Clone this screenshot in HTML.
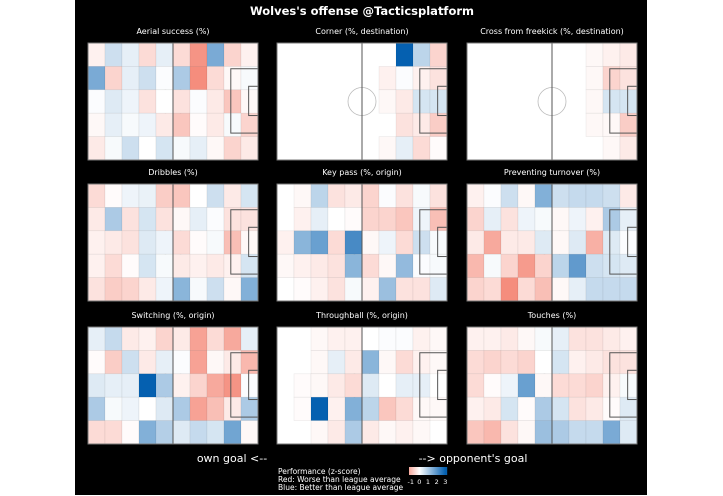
<!DOCTYPE html>
<html><head><meta charset="utf-8">
<style>
html,body{margin:0;padding:0;background:#fff;}
#wrap{position:relative;width:723px;height:496px;overflow:hidden;background:#fff;font-family:"Liberation Sans","DejaVu Sans",sans-serif;}
#bg{position:absolute;left:75px;top:0;width:572px;height:495px;background:#000;}
svg{position:absolute;left:0;top:0;}
</style></head>
<body>
<div id="wrap">
<div id="bg"></div>
<svg id="chart" width="723" height="496">
<text x="362" y="15" fill="#fff" font-size="11.5" font-weight="bold" text-anchor="middle" font-family="DejaVu Sans, sans-serif">Wolves's offense @Tacticsplatform</text>
<text x="232" y="462" fill="#fff" font-size="11" text-anchor="middle" font-family="DejaVu Sans, sans-serif">own goal &lt;--</text>
<text x="473" y="462" fill="#fff" font-size="11" text-anchor="middle" font-family="DejaVu Sans, sans-serif">--&gt; opponent's goal</text>
<g font-family="DejaVu Sans, sans-serif" font-size="7.5" fill="#fff">
<text x="278" y="474">Performance (z-score)</text>
<text x="278" y="482">Red: Worse than league average</text>
<text x="278" y="490">Blue: Better than league average</text>
</g>
</svg>
</div>
<script>
const titles = ["Aerial success (%)","Corner (%, destination)","Cross from freekick (%, destination)","Dribbles (%)","Key pass (%, origin)","Preventing turnover (%)","Switching (%, origin)","Throughball (%, origin)","Touches (%)"];
const N = null;
const aerial = [[-0.2,0.6,0.3,-0.5,0.3,-0.5,-1.5,1.6,-0.6,-0.2],[1.6,-0.6,0.3,0.6,0.05,1.0,-1.6,-0.5,-0.1,0.1],[0.05,0.4,0.2,-0.4,0,-0.4,0.05,-0.3,-0.8,-0.1],[-0.1,0.3,0.1,0.2,-0.3,-0.8,-0.05,-0.3,0.1,-0.6],[-0.3,0.1,0.6,0,0.5,0.1,0.3,-0.1,-0.6,-0.3]];
const corner = [[N,N,N,N,N,N,N,3.0,0.8,-0.6],[N,N,N,N,N,N,-0.2,0.05,-0.2,-0.4],[N,N,N,N,N,N,-0.1,-0.3,0.5,0.5],[N,N,N,N,N,N,N,-0.4,-0.3,-0.7],[N,N,N,N,N,N,-0.1,0.3,-0.5,-0.05]];
const crossFk = [[N,N,N,N,N,N,N,-0.1,-0.2,-0.3],[N,N,N,N,N,N,N,-0.1,-0.6,-0.4],[N,N,N,N,N,N,N,-0.1,0.5,0.5],[N,N,N,N,N,N,N,-0.1,-0.1,-0.7],[N,N,N,N,N,N,N,N,-0.1,-0.3]];
const dribbles = [[-0.5,-0.05,0.2,0.25,-0.7,-0.8,0,0.6,-0.3,0.5],[-0.3,1.0,-0.4,0.5,-0.4,-0.1,0.3,0.05,-0.4,-0.4],[-0.2,-0.3,-0.4,0.4,0.2,-0.5,-0.05,0.1,-0.9,-0.1],[-0.2,-0.5,-0.05,0.5,0.1,-0.3,-0.2,-0.3,-0.2,0.5],[-0.4,-0.7,-0.6,-0.3,0.2,1.4,0.1,0.6,-0.1,1.5]];
const keyPass = [[N,-0.1,0.8,-0.4,-0.3,-0.6,0.05,-0.4,0.1,-0.4],[N,-0.2,0.3,0,-0.05,-0.6,-0.6,-0.8,0.2,-0.9],[-0.2,1.4,1.8,-0.5,2.2,-0.1,0.2,-0.5,0.6,0.1],[-0.1,-0.2,-0.3,-0.4,1.4,-0.5,-0.1,1.3,0.05,0.1],[0,-0.05,-0.2,-0.4,0.1,-0.2,1.2,-0.4,-0.4,0.4]];
const turnover = [[-0.2,0.05,0.6,-0.1,1.5,0.6,0.7,0.7,0.6,-0.3],[-0.6,0.3,-0.4,0.2,0.1,-0.1,0.2,-0.2,1.0,0.3],[-0.3,-1.2,-0.3,-0.3,0.4,-0.1,0.4,-1.1,0.4,0.05],[-1.0,0.1,-0.6,-1.4,-0.6,0.8,1.9,0.6,0.5,0.4],[-0.6,-0.5,-1.6,-0.5,-0.9,-0.1,0.3,0.7,0.7,0.7]];
const switching = [[0.3,0.7,-0.3,-0.2,-0.6,-0.3,-1.3,-0.5,-1.2,0.3],[-0.05,-0.7,0.6,-0.3,0.3,0.05,-1.3,-0.1,-0.3,-1.0],[0.4,0.3,0.3,3.0,1.0,-0.2,-0.6,-1.2,-1.5,0.05],[1.0,0.1,0.2,0,0.4,1.0,-1.3,-0.9,-0.3,1.0],[-0.5,-0.5,-0.05,1.5,0.9,0.4,0.7,0.5,1.7,-0.1]];
const throughball = [[N,N,-0.1,-0.2,-0.2,0,0.05,0.05,-0.2,-0.1],[N,N,-0.1,0.3,-0.3,1.4,-0.1,-0.5,-0.2,-0.1],[N,-0.05,-0.1,-0.3,-0.5,0.4,0,0.3,0.3,N],[N,-0.05,3.0,-0.2,1.5,0.8,-0.8,-0.5,-0.1,-0.1],[N,N,-0.1,-0.3,1.0,-0.3,-0.1,-0.2,-0.1,N]];
const touches = [[-0.2,-0.2,-0.3,-0.1,0.1,0.3,-0.4,-0.4,-0.3,-0.2],[-0.5,-0.6,-0.5,-0.6,0,0.5,-0.2,-0.3,-0.4,-0.4],[-0.5,-0.05,0.2,1.8,-0.1,-0.5,-0.5,-0.6,-0.2,0.1],[-0.2,-0.3,0.5,-0.05,1.0,0.5,-0.4,-0.3,-0.05,0.4],[-0.8,-1.0,-0.4,-0.1,1.2,1.0,0.7,0.7,1.6,0.4]];
const panels = [aerial,corner,crossFk,dribbles,keyPass,turnover,switching,throughball,touches];
const legendTicks = [-1,0,1,2,3];

const NS = "http://www.w3.org/2000/svg";
const svg = document.getElementById('chart');
function mk(tag, attrs, parent){const e=document.createElementNS(NS,tag);for(const k in attrs)e.setAttribute(k,attrs[k]);(parent||svg).appendChild(e);return e;}
function lerp(a,b,t){return Math.round(a+(b-a)*t);}
function color(v){
  if(v>=0){const t=Math.min(v/3,1);return `rgb(${lerp(255,5,t)},${lerp(255,96,t)},${lerp(255,176,t)})`;}
  const t=Math.min(-v/2,1);return `rgb(${lerp(255,242,t)},${lerp(255,112,t)},${lerp(255,92,t)})`;
}
const colX=[88,277,467], rowY=[43,184,327], PW=170, PH=117, NC=10, NR=5;
const xCell = (p,c)=> colX[p%3] + c*PW/NC;
const yCell = (p,r)=> rowY[Math.floor(p/3)] + r*PH/NR;

panels.forEach((data,p)=>{
  const x0=colX[p%3], y0=rowY[Math.floor(p/3)];
  const g=mk('g',{});
  
  
  const t=mk('text',{x:x0+PW/2,y:y0-9,fill:'#fff','font-size':'8','text-anchor':'middle','font-family':'DejaVu Sans, sans-serif'},g);
  t.textContent=titles[p];
  
  
  const bgr=mk('rect',{x:x0,y:y0,width:PW,height:PH,fill:'#fff'},g);
  
  
  const cc=mk('circle',{cx:x0+PW/2,cy:y0+PH/2,r:14,fill:'none',stroke:'#bbb','stroke-width':'0.8'},g);
  
  
  data.forEach((row,r)=>row.forEach((v,c)=>{
    if(v===null) return;
    const cell=mk('rect',{x:xCell(p,c),y:yCell(p,r),width:PW/NC,height:PH/NR,fill:color(v),stroke:'rgba(0,0,0,0.08)','stroke-width':'0.6'},g);
    
    
  }));
  const lc='#555';
  const mid=mk('line',{x1:x0+PW/2,y1:y0,x2:x0+PW/2,y2:y0+PH,stroke:lc,'stroke-width':'1'},g);
  
  
  const pb=mk('rect',{x:x0+PW*0.84,y:y0+PH*0.22,width:PW*0.16,height:PH*0.55,fill:'none',stroke:lc,'stroke-width':'1'},g);
  
  
  const sb=mk('rect',{x:x0+PW*0.945,y:y0+PH*0.37,width:PW*0.055,height:PH*0.25,fill:'none',stroke:lc,'stroke-width':'1'},g);
  
  
  const br=mk('rect',{x:x0,y:y0,width:PW,height:PH,fill:'none',stroke:'#777','stroke-width':'1'},g);
  
  
});

const cbX=409, cbW=38, cbY=467, cbH=8, vmin=-1.2, vmax=3.2;
const cbx = v => cbX + (v-vmin)/(vmax-vmin)*cbW;
for(let i=0;i<cbW;i++){
  const v=vmin+(i+0.5)/cbW*(vmax-vmin);
  const s=mk('rect',{x:cbX+i,y:cbY,width:1.2,height:cbH,fill:color(v)});
  
  
}
legendTicks.forEach(v=>{
  const t=mk('text',{x:cbx(v),y:cbY+17,fill:'#fff','font-size':'6.5','text-anchor':'middle','font-family':'DejaVu Sans, sans-serif'});
  t.textContent=String(v);
  
  
});
</script>
</body></html>
